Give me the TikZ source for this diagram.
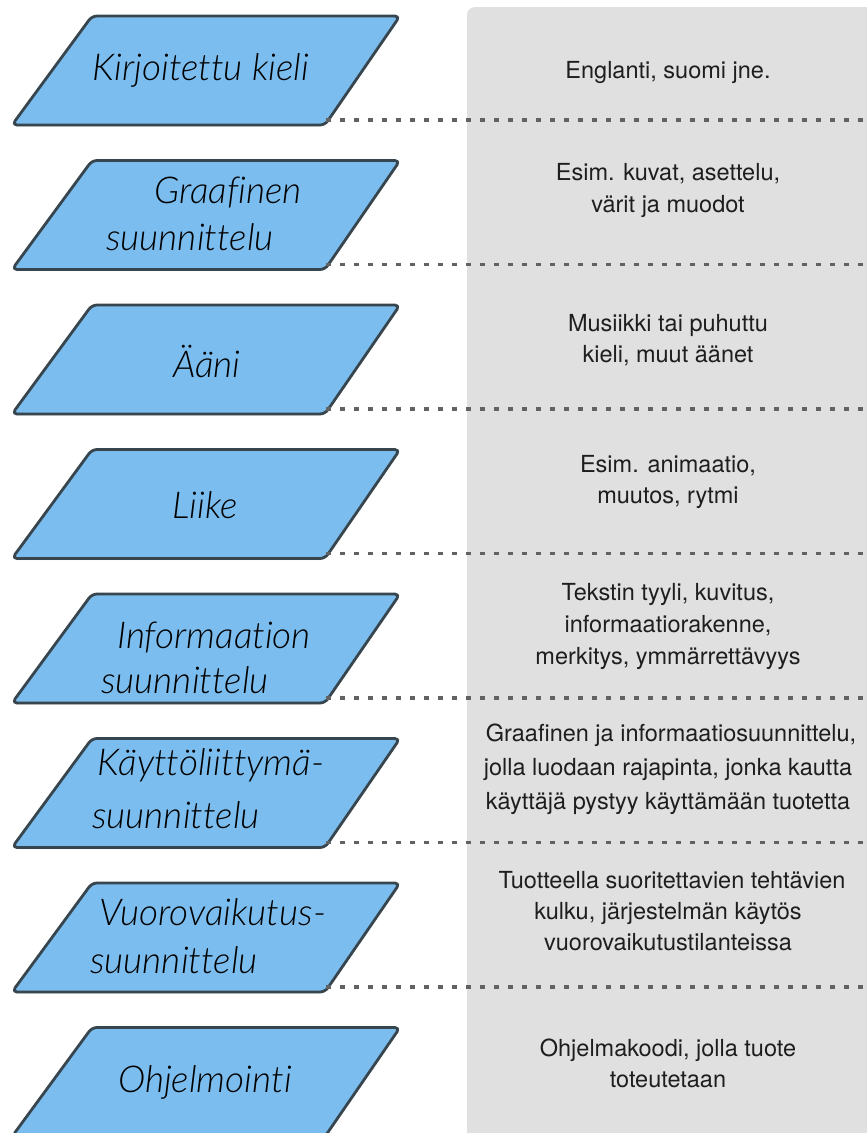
\documentclass[tikz,border=0pt]{standalone}
\usepackage{fontspec}
\setmainfont{TeX Gyre Heros}
\newfontfamily\leftfont[Ligatures=NoCommon]{Lato Light Italic}
\usetikzlibrary{shadows}
\definecolor{parafill}{HTML}{7BBDEE}
\definecolor{paraline}{HTML}{37454E}
\definecolor{panelbg}{HTML}{E0E0E0}
\definecolor{dashcol}{HTML}{626262}
\definecolor{desctext}{HTML}{1E1E1E}
\tikzset{
  parabox/.style={fill=parafill, draw=paraline, line width=2.8pt, rounded corners=5pt, line join=round,
    drop shadow={opacity=0.25, shadow xshift=-1pt, shadow yshift=-1.5pt}},
  sep/.style={draw=dashcol, line width=3.2pt, dash pattern=on 5pt off 9pt},
  lbl/.style={anchor=base, inner sep=0pt, font=\leftfont\fontsize{37}{44}\selectfont, text=black},
  desc/.style={anchor=base, inner sep=0pt, font=\fontsize{23.5}{32}\selectfont, text=desctext},
}
\begin{document}
\begin{tikzpicture}[x=1pt,y=-1pt]
\useasboundingbox (0,0) rectangle (867,1133);
\clip (0,0) rectangle (867,1133);
\fill[panelbg, rounded corners=8pt] (467,7) rectangle (890,1160);
\foreach \i in {0,...,7}{
  \pgfmathsetmacro{\yt}{16+144.5*\i}
  \path[parabox] (92,\yt) -- (400,\yt) -- (325,\yt+109) -- (12,\yt+109) -- cycle;
}
\foreach \i in {0,...,6}{
  \pgfmathsetmacro{\yd}{16+144.5*\i+104}
  \coordinate (c\i) at (326,\yd);
  \coordinate (e\i) at (867,\yd);
  \draw[sep] (c\i) -- (e\i);
}
% left labels
\node[lbl] (l0) at (201,80) {Kirjoitettu kieli};
\node[lbl] (l1a) at (228,203) {Graafinen};
\node[lbl] (l1b) at (190,250) {suunnittelu};
\node[lbl] (l2) at (207,377) {Ääni};
\node[lbl] (l3) at (205,518) {Liike};
\node[lbl] (l4a) at (214,648) {Informaation};
\node[lbl] (l4b) at (185,693) {suunnittelu};
\node[lbl] (l5a) at (211,775) {Käyttöliittymä-};
\node[lbl] (l5b) at (176,828) {suunnittelu};
\node[lbl] (l6a) at (213,925) {Vuorovaikutus-};
\node[lbl] (l6b) at (174,973) {suunnittelu};
\node[lbl] (l7) at (205,1092) {Ohjelmointi};
% right descriptions
\node[desc] (d0) at (668,78) {Englanti, suomi jne.};
\node[desc] (d1a) at (668,180) {Esim. kuvat, asettelu,};
\node[desc] (d1b) at (668,212) {värit ja muodot};
\node[desc] (d2a) at (668,331) {Musiikki tai puhuttu};
\node[desc] (d2b) at (668,362) {kieli, muut äänet};
\node[desc] (d3a) at (668,472) {Esim. animaatio,};
\node[desc] (d3b) at (668,503) {muutos, rytmi};
\node[desc] (d4a) at (668,600) {Tekstin tyyli, kuvitus,};
\node[desc] (d4b) at (668,632) {informaatiorakenne,};
\node[desc] (d4c) at (668,664) {merkitys, ymmärrettävyys};
\node[desc] (d5a) at (671,741) {Graafinen ja informaatiosuunnittelu,};
\node[desc] (d5b) at (668,775) {jolla luodaan rajapinta, jonka kautta};
\node[desc] (d5c) at (668,809) {käyttäjä pystyy käyttämään tuotetta};
\node[desc] (d6a) at (672,888) {Tuotteella suoritettavien tehtävien};
\node[desc] (d6b) at (668,919) {kulku, järjestelmän käytös};
\node[desc] (d6c) at (668,950) {vuorovaikutustilanteissa};
\node[desc] (d7a) at (668,1056) {Ohjelmakoodi, jolla tuote};
\node[desc] (d7b) at (668,1087) {toteutetaan};
\end{tikzpicture}
\end{document}
